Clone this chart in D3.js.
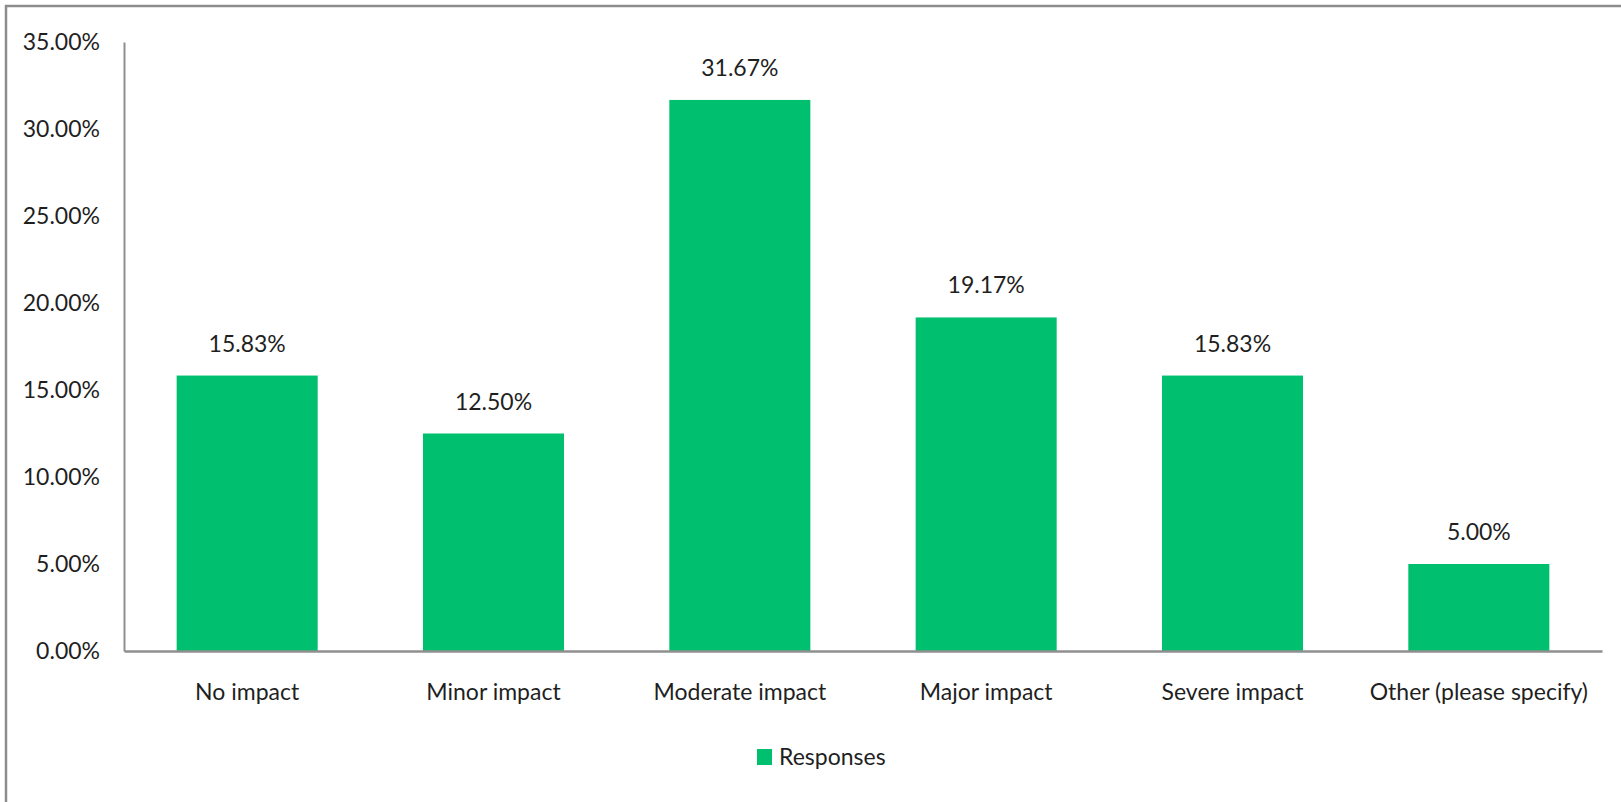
<!DOCTYPE html>
<html>
<head>
<meta charset="utf-8">
<script src="https://cdn.jsdelivr.net/npm/d3@7"></script>
<style>
    body { margin: 0; background: #fff; }
    svg { display: block; font-family: Lato, "Open Sans", sans-serif; }
</style>
</head>
<body>
<div id="chart"></div>
<script>
const categories = ["No impact", "Minor impact", "Moderate impact", "Major impact", "Severe impact", "Other (please specify)"];
const responses = [15.83, 12.50, 31.67, 19.17, 15.83, 5.00];
const yTicks = [0, 5, 10, 15, 20, 25, 30, 35];
const seriesName = "Responses";

const W = 1621, H = 802;
const margin = { top: 42, right: 19, bottom: 151, left: 124 };
const width = W - margin.left - margin.right;
const height = H - margin.top - margin.bottom;
const green = "#00bf6f";
const axisGrey = "#8f8f8f";
const textCol = "#1f1f1f";
const fontSize = "23px";

const svg = d3.select("#chart").append("svg")
    .attr("width", W)
    .attr("height", H);

// outer frame (only top and left are visible in the picture)
svg.append("rect")
    .attr("x", 6).attr("y", 6)
    .attr("width", W + 20).attr("height", H + 20)
    .attr("fill", "none")
    .attr("stroke", "#8c8c8c")
    .attr("stroke-width", 2.5);

const g = svg.append("g")
    .attr("transform", `translate(${margin.left},${margin.top})`);

const x = d3.scaleBand()
    .domain(categories)
    .range([0, width])
    .paddingInner(0.4275)
    .paddingOuter(0.21375);

const y = d3.scaleLinear()
    .domain([0, 35])
    .range([height, 0]);

// bars
g.selectAll("rect.bar")
    .data(responses)
    .join("rect")
    .attr("class", "bar")
    .attr("x", (d, i) => x(categories[i]))
    .attr("y", d => y(d))
    .attr("width", x.bandwidth())
    .attr("height", d => height - y(d))
    .attr("fill", green);

// value labels
g.selectAll("text.val")
    .data(responses)
    .join("text")
    .attr("class", "val")
    .attr("x", (d, i) => x(categories[i]) + x.bandwidth() / 2)
    .attr("y", d => y(d) - 24)
    .attr("text-anchor", "middle")
    .style("font-size", fontSize)
    .attr("fill", textCol)
    .text(d => d.toFixed(2) + "%");

// y axis
const yAxis = g.append("g")
    .call(d3.axisLeft(y).tickValues(yTicks).tickSize(0).tickPadding(24)
        .tickFormat(d => d.toFixed(2) + "%"));
yAxis.select(".domain").attr("stroke", axisGrey).attr("stroke-width", 2);
yAxis.selectAll("text")
    .style("font-size", fontSize)
    .style("font-family", "Lato, sans-serif")
    .attr("fill", textCol);

// x axis
const xAxis = g.append("g")
    .attr("transform", `translate(0,${height})`)
    .call(d3.axisBottom(x).tickSize(0).tickPadding(33));
xAxis.select(".domain").attr("stroke", axisGrey).attr("stroke-width", 2.5);
xAxis.selectAll("text")
    .style("font-size", fontSize)
    .style("font-family", "Lato, sans-serif")
    .attr("fill", textCol);

// legend
const legend = svg.append("g")
    .attr("transform", `translate(757,749)`);
legend.append("rect")
    .attr("width", 15).attr("height", 16)
    .attr("fill", green);
legend.append("text")
    .attr("x", 22).attr("y", 16)
    .style("font-size", fontSize)
    .attr("fill", textCol)
    .text(seriesName);
</script>
</body>
</html>
